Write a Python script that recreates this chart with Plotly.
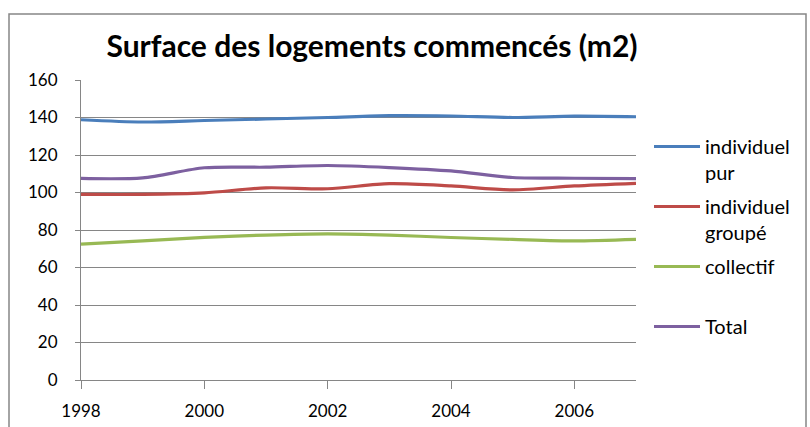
import plotly.graph_objects as go

years = [1998, 1999, 2000, 2001, 2002, 2003, 2004, 2005, 2006, 2007]
individuel_pur = [138.8, 137.6, 138.4, 139.2, 140.0, 141.0, 140.8, 140.0, 140.7, 140.4]
individuel_groupe = [99.0, 99.0, 99.8, 102.5, 102.0, 104.7, 103.5, 101.4, 103.5, 104.9]
collectif = [72.5, 74.2, 76.1, 77.3, 77.9, 77.3, 76.0, 75.0, 74.2, 75.0]
total = [107.5, 107.8, 113.2, 113.5, 114.4, 113.3, 111.5, 108.0, 107.6, 107.4]

series = [
    ("individuel<br>pur", individuel_pur, "#4A7EBB"),
    ("individuel<br>groupé", individuel_groupe, "#BE4B48"),
    ("collectif<br>&nbsp;", collectif, "#98B954"),
    ("Total", total, "#7D60A0"),
]

FONT = "Lato"
fig = go.Figure()
for i, (name, vals, color) in enumerate(series):
    fig.add_trace(go.Scatter(
        x=years, y=vals, name=name, mode="lines",
        line=dict(color=color, width=3.2, shape="spline", smoothing=0.8),
        legendgroup=str(i),
    ))

L, R, T, B = 81, 636, 80, 380
W, H = R - L, B - T

def px(x):
    return (x - L) / W

def py(y):
    return (B - y) / H

fig.update_layout(
    width=810, height=427,
    margin=dict(l=L, r=810 - R, t=T, b=427 - B, autoexpand=False),
    paper_bgcolor="white", plot_bgcolor="white",
    font=dict(family=FONT, size=17, color="#000000"),
    title=dict(text="<b>Surface des logements commencés (m2)</b>",
               x=372 / 810, xanchor="center", xref="container",
               y=1 - 46 / 427, yanchor="middle", yref="container",
               font=dict(family=FONT, size=30, color="#000000")),
    showlegend=True,
    legend=dict(x=px(649), xanchor="left", y=py(127), yanchor="top",
                font=dict(family=FONT, size=20), tracegroupgap=5,
                itemwidth=46, valign="top", bgcolor="rgba(0,0,0,0)"),
    xaxis=dict(range=[1998, 2007], tickvals=[1998, 2000, 2002, 2004, 2006],
               showgrid=False, showline=True, linecolor="#868686", linewidth=1,
               ticks="outside", ticklen=8, tickcolor="#868686",
               ticklabelstandoff=8, zeroline=False, fixedrange=True),
    yaxis=dict(range=[0, 160], dtick=20, showgrid=True, gridcolor="#868686",
               gridwidth=1, showline=True, linecolor="#868686", linewidth=1,
               ticks="outside", ticklen=5, tickcolor="#868686",
               ticklabelstandoff=14, zeroline=False, fixedrange=True),
    shapes=[dict(type="rect", xref="paper", yref="paper",
                 x0=px(9), x1=px(806), y0=py(440), y1=py(14),
                 line=dict(color="#868686", width=1.5), layer="below")],
)

fig.write_html("out.html", config={"displayModeBar": False},
               post_script="document.body.style.margin='0';")
